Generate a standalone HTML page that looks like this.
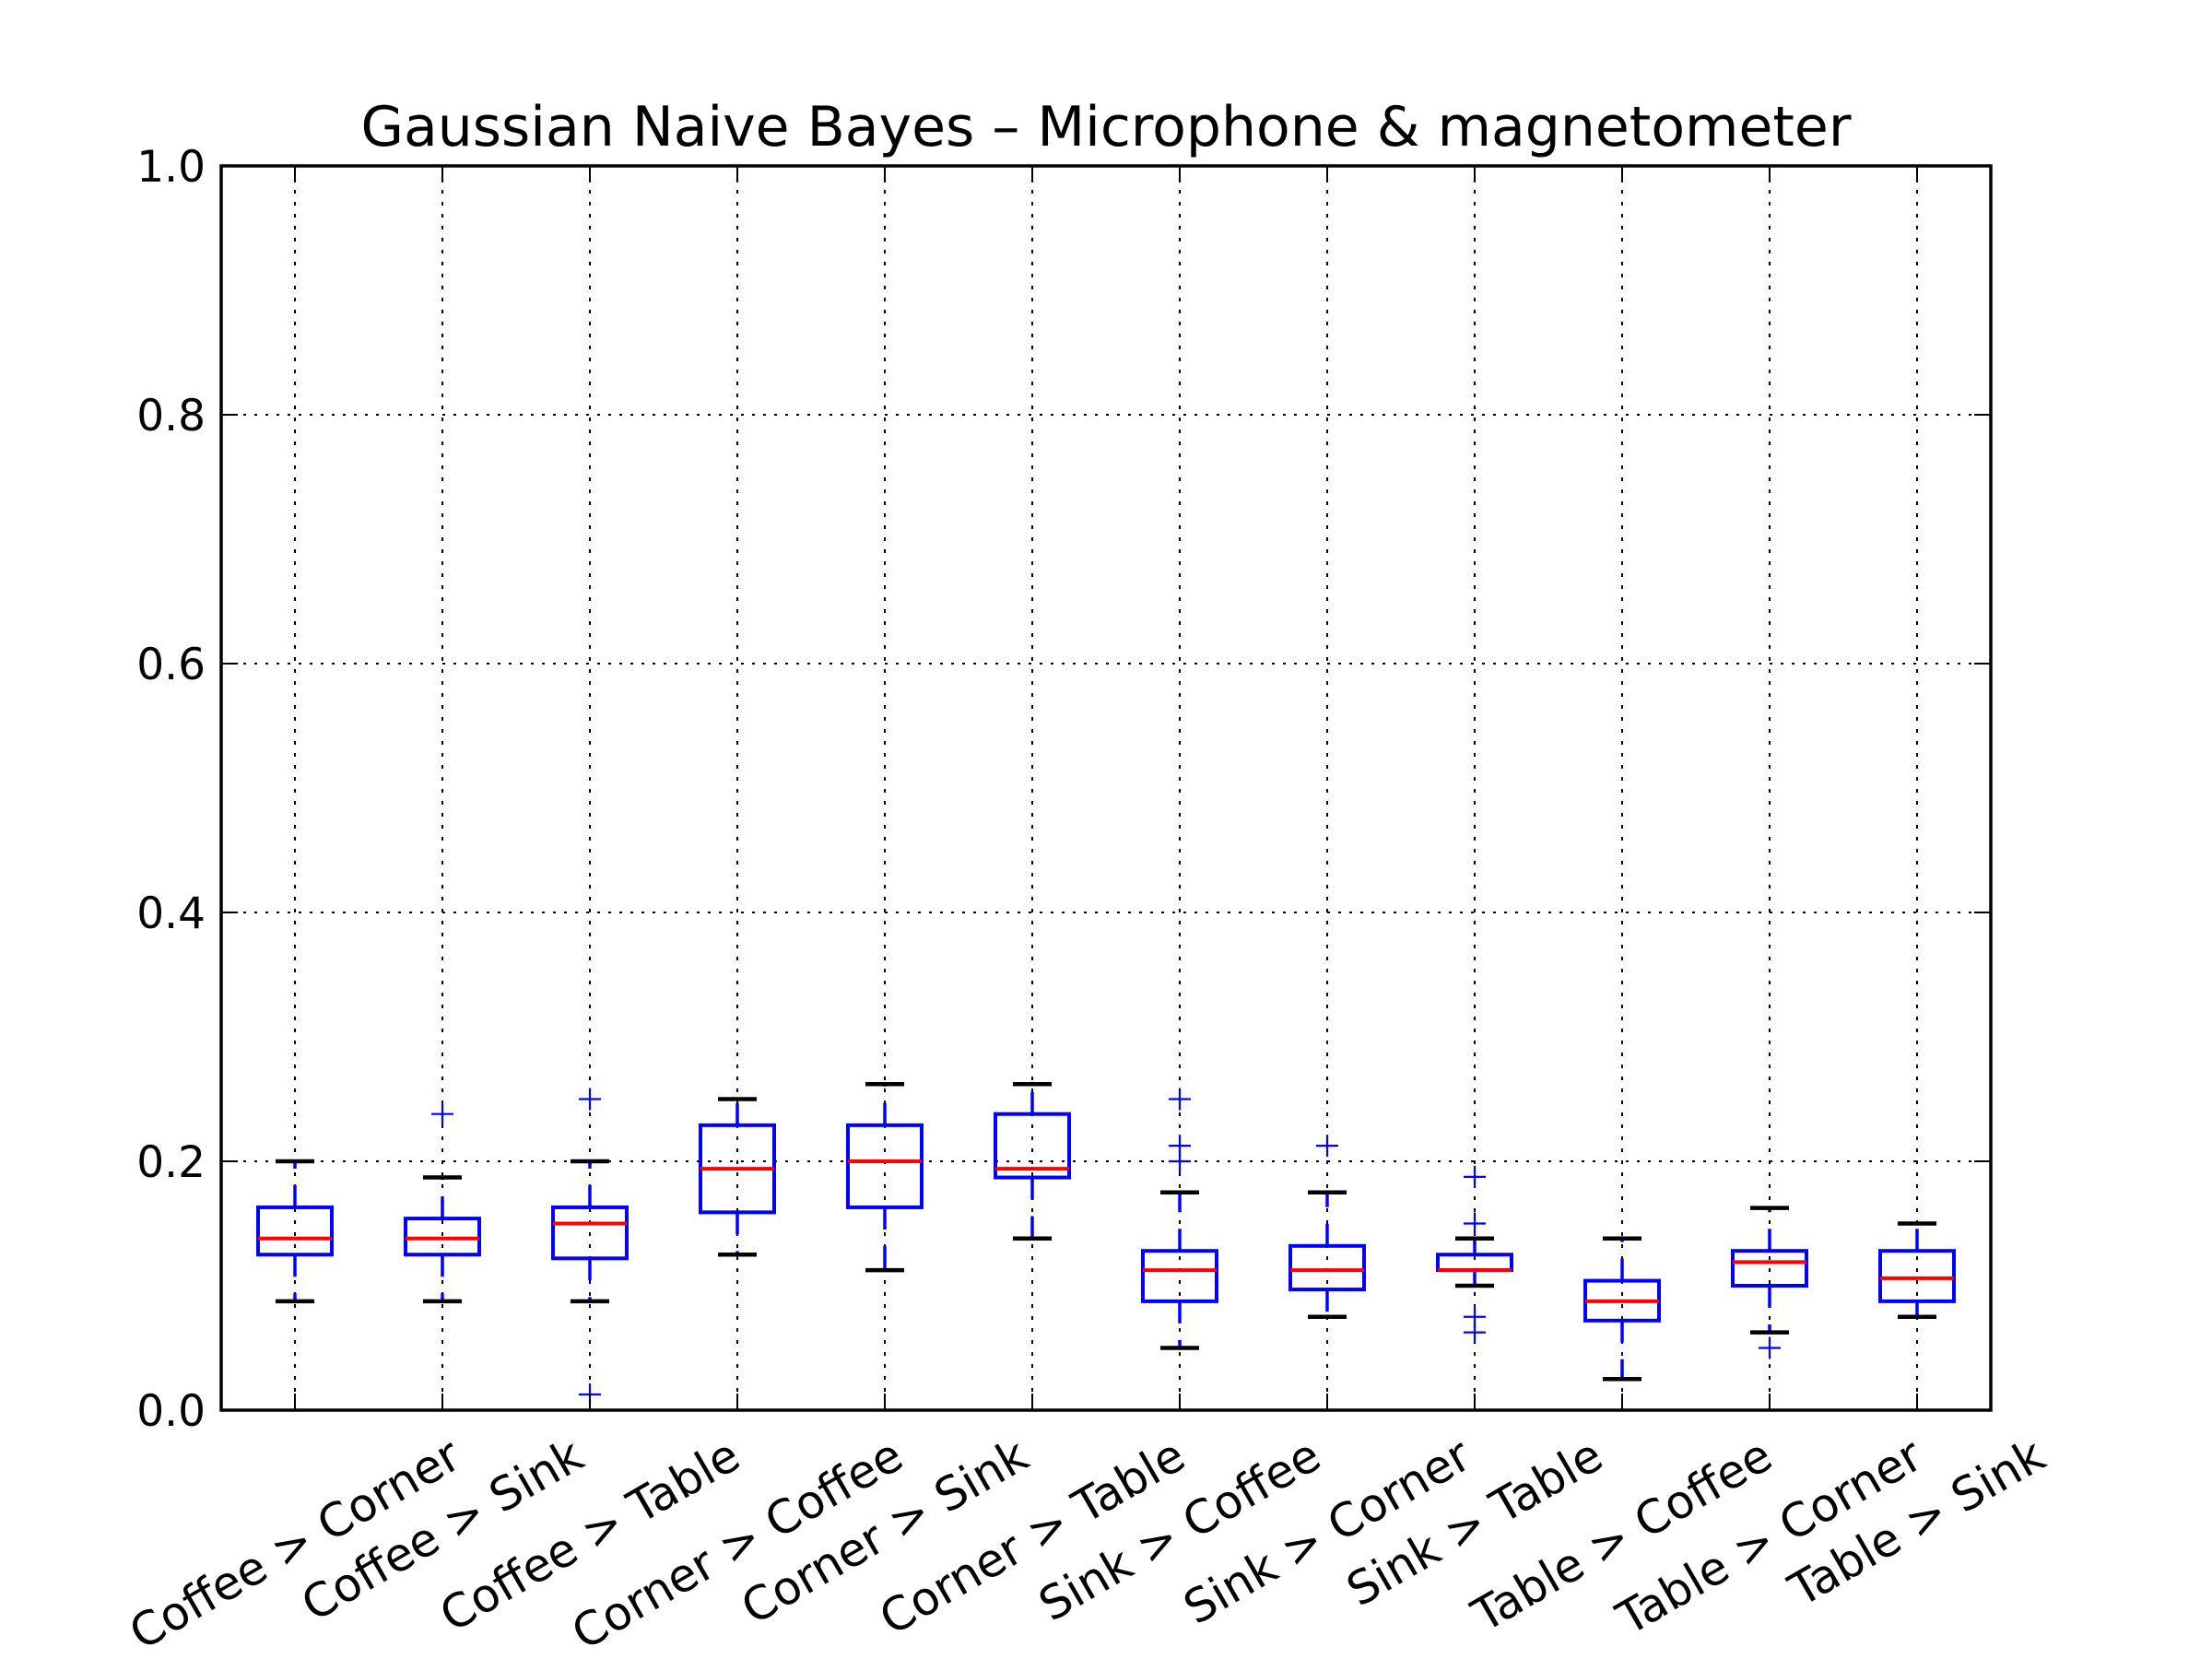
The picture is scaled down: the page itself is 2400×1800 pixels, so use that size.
<!DOCTYPE html>
<html><head><meta charset="utf-8"><style>
html,body{margin:0;padding:0;background:#fff;}
svg{display:block;font-family:"DejaVu Sans","Liberation Sans",sans-serif;}
</style></head><body>
<svg id="chart" width="2400" height="1800" viewBox="0 0 2400 1800" xmlns="http://www.w3.org/2000/svg">
<rect width="2400" height="1800" fill="#fff"/>
<text x="1200" y="158" text-anchor="middle" font-size="60">Gaussian Naive Bayes – Microphone &amp; magnetometer</text>
<g id="grid"></g>
<g id="marks"></g>
<rect x="240" y="180" width="1920" height="1350" fill="none" stroke="#000" stroke-width="3.5"/>
<g id="axes"></g>
</svg>
<script>
const categories = ["Coffee > Corner","Coffee > Sink","Coffee > Table","Corner > Coffee","Corner > Sink","Corner > Table","Sink > Coffee","Sink > Corner","Sink > Table","Table > Coffee","Table > Corner","Table > Sink"];
const whiskerLow  = [0.0875,0.0875,0.0875,0.125,0.1125,0.138,0.05,0.075,0.1,0.025,0.0625,0.075];
const q1Values    = [0.125,0.125,0.122,0.159,0.163,0.187,0.0875,0.097,0.1125,0.072,0.1,0.0875];
const medians     = [0.138,0.138,0.150,0.194,0.2,0.194,0.1125,0.1125,0.1125,0.0875,0.119,0.106];
const q3Values    = [0.163,0.154,0.163,0.229,0.229,0.238,0.128,0.132,0.125,0.104,0.128,0.128];
const whiskerHigh = [0.2,0.187,0.2,0.25,0.262,0.262,0.175,0.175,0.138,0.138,0.1625,0.15];
const outliers    = [[],[0.238],[0.25,0.0126],[],[],[],[0.25,0.2125,0.2],[0.2125],[0.1875,0.15,0.075,0.0625],[],[0.05],[]];
const yTicks = [0,0.2,0.4,0.6,0.8,1.0];
const yTickLabels = ["0.0","0.2","0.4","0.6","0.8","1.0"];

const L=240,R=2160,T=180,B=1530;
function y(v){return B-(v-0)/(1-0)*(B-T);}
function x(i){return L+80+i*((R-L)/categories.length);}
const NS="http://www.w3.org/2000/svg";
function mk(tag,attrs,parent){const e=document.createElementNS(NS,tag);for(const k in attrs)e.setAttribute(k,attrs[k]);parent.appendChild(e);return e;}
const grid=document.getElementById('grid'),marks=document.getElementById('marks'),axes=document.getElementById('axes');

yTicks.forEach((t,j)=>{
  const yy=y(t);
  if(t>0&&t<1){const g=mk('line',{x1:L,x2:R,y1:yy,y2:yy,stroke:'#000','stroke-width':2,'stroke-dasharray':'3 9'},grid);
  
  }
  const t1=mk('line',{x1:L,x2:L+18,y1:yy,y2:yy,stroke:'#000','stroke-width':2},axes);
  
  
  const t2=mk('line',{x1:R-18,x2:R,y1:yy,y2:yy,stroke:'#000','stroke-width':2},axes);
  
  
  const lb=mk('text',{x:223,y:yy+17,'text-anchor':'end','font-size':47},axes);
  lb.textContent=yTickLabels[j];
  
  
});

categories.forEach((c,i)=>{
  const xx=x(i);
  const g=mk('line',{x1:xx,x2:xx,y1:T,y2:B,stroke:'#000','stroke-width':2,'stroke-dasharray':'4 9'},grid);
  
  
  const t1=mk('line',{x1:xx,x2:xx,y1:B-18,y2:B,stroke:'#000','stroke-width':2},axes);
  
  
  const t2=mk('line',{x1:xx,x2:xx,y1:T,y2:T+18,stroke:'#000','stroke-width':2},axes);
  
  

  const grp=mk('g',{},marks);
  
  
  const w1=mk('line',{x1:xx,x2:xx,y1:y(q3Values[i]),y2:y(whiskerHigh[i]),stroke:'#00f','stroke-width':3.5,'stroke-dasharray':'24 18'},grp);
  
  
  const w2=mk('line',{x1:xx,x2:xx,y1:y(q1Values[i]),y2:y(whiskerLow[i]),stroke:'#00f','stroke-width':3.5,'stroke-dasharray':'24 18'},grp);
  
  
  const c1=mk('line',{x1:xx-21,x2:xx+21,y1:y(whiskerHigh[i]),y2:y(whiskerHigh[i]),stroke:'#000','stroke-width':4.5},grp);
  
  
  const c2=mk('line',{x1:xx-21,x2:xx+21,y1:y(whiskerLow[i]),y2:y(whiskerLow[i]),stroke:'#000','stroke-width':4.5},grp);
  
  
  const bx=mk('rect',{x:xx-40,y:y(q3Values[i]),width:80,height:Math.max(0.5,y(q1Values[i])-y(q3Values[i])),fill:'none',stroke:'#00f','stroke-width':4},grp);
  
  
  const md=mk('line',{x1:xx-40,x2:xx+40,y1:y(medians[i]),y2:y(medians[i]),stroke:'#f00','stroke-width':4},grp);
  
  
  outliers[i].forEach(o=>{
    const p=mk('path',{d:`M${xx-12} ${y(o)}H${xx+12}M${xx} ${y(o)-12}V${y(o)+12}`,stroke:'#00f','stroke-width':2.2,fill:'none'},grp);
    
    
  });

  const lb=mk('text',{'font-size':50,'text-anchor':'middle'},axes);
  lb.textContent=c;
  
  
  const w=lb.getComputedTextLength();
  const h=50;
  const bh=w*0.5+h*0.866;
  const cy=1553+bh/2;
  lb.setAttribute('transform',`translate(${xx},${cy}) rotate(-30)`);
  lb.setAttribute('y',17);
});
</script>
</body></html>
